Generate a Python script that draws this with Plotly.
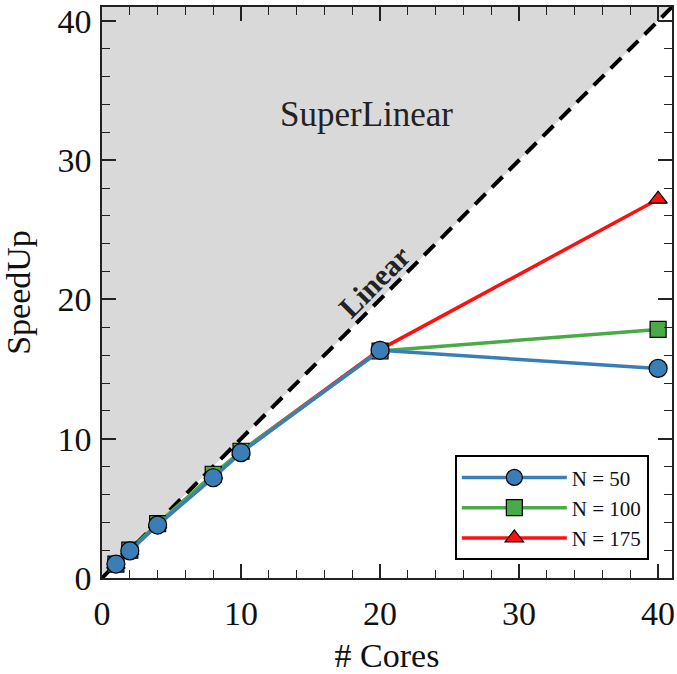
import plotly.graph_objects as go

cores = [1, 2, 4, 8, 10, 20, 40]
speedup_n50 = [1.0, 1.95, 3.8, 7.2, 9.0, 16.35, 15.05]
speedup_n100 = [1.0, 2.0, 3.9, 7.45, 9.1, 16.3, 17.85]
speedup_n175 = [1.0, 2.0, 3.9, 7.4, 9.1, 16.4, 27.2]
series_names = ["N = 50", "N = 100", "N = 175"]
axis_max = 41
tick_vals = [0, 10, 20, 30, 40]

FONT = "Liberation Serif, Times New Roman, serif"

fig = go.Figure()

# SuperLinear region (above the diagonal)
fig.add_trace(go.Scatter(
    x=[0, axis_max, 0, 0], y=[0, axis_max, axis_max, 0],
    fill="toself", fillcolor="#d9d9d9", mode="none",
    showlegend=False, hoverinfo="skip"))

# Linear reference line
fig.add_trace(go.Scatter(
    x=[0, axis_max], y=[0, axis_max], mode="lines",
    line=dict(color="black", width=4, dash="15px,9px"),
    showlegend=False, hoverinfo="skip"))

series = [
    (series_names[2], speedup_n175, "#ff1010", "triangle-up"),
    (series_names[1], speedup_n100, "#4aaa48", "square"),
    (series_names[0], speedup_n50, "#3a7db7", "circle"),
]
for name, ys, col, sym in series:
    fig.add_trace(go.Scatter(
        x=cores, y=ys, name=name, mode="lines+markers",
        line=dict(color=col, width=3.5),
        marker=dict(symbol=sym, size=18 if sym == "circle" else 16, color=col,
                    line=dict(color="black", width=1.2))))

fig.add_annotation(x=19, y=33.3, text="SuperLinear", showarrow=False,
                   font=dict(family=FONT, size=35, color="#222"))
fig.add_annotation(x=19.6, y=21.3, text="<b>Linear</b>", showarrow=False,
                   textangle=-45, font=dict(family=FONT, size=30, color="#222"))

axis_common = dict(
    range=[0, axis_max], tickvals=tick_vals, ticks="inside", ticklen=14,
    tickwidth=1.5, tickcolor="#222", showline=True, linecolor="#222", linewidth=1.5,
    mirror="ticks", showgrid=False, zeroline=False, automargin=False,
    tickfont=dict(family=FONT, size=34, color="#111"),
    minor=dict(dtick=2, ticks="inside", ticklen=8, tickwidth=1.2, tickcolor="#222", showgrid=False),
)

fig.update_layout(
    width=677, height=674,
    margin=dict(l=102, r=5, t=7, b=96),
    plot_bgcolor="white", paper_bgcolor="white",
    font=dict(family=FONT, color="#111"),
    xaxis=dict(**axis_common, ticklabelstandoff=4,
               title=dict(text="# Cores", font=dict(family=FONT, size=34), standoff=22)),
    yaxis=dict(**axis_common, ticklabelstandoff=2,
               title=dict(text="SpeedUp", font=dict(family=FONT, size=34), standoff=21)),
    legend=dict(x=0.619, y=0.215, xanchor="left", yanchor="top",
                bgcolor="white", bordercolor="black", borderwidth=2,
                traceorder="reversed", itemwidth=105, tracegroupgap=0,
                font=dict(family=FONT, size=21, color="#111")),
)

fig.write_html("out.html", config={"displayModeBar": False},
               post_script="document.body.style.margin='0';document.body.style.overflow='hidden';")
